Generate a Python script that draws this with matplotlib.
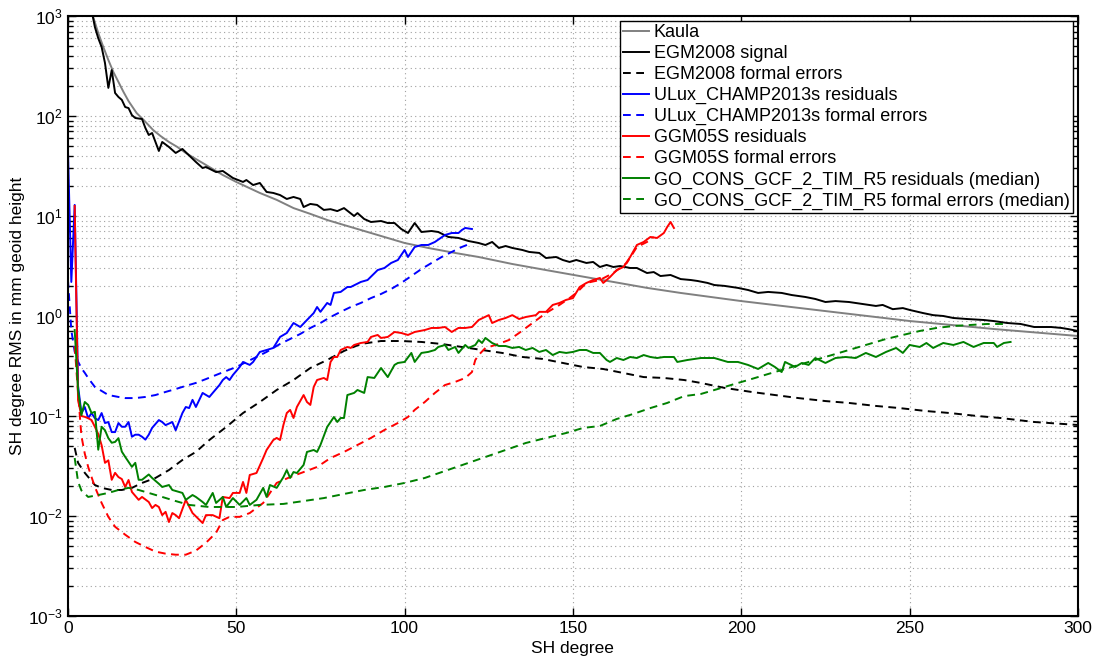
import matplotlib
matplotlib.use("Agg")
import matplotlib.pyplot as plt
from matplotlib.ticker import LogLocator, NullFormatter, MultipleLocator

plt.rcParams['font.family'] = ['Liberation Sans', 'DejaVu Sans']

# ---- data (SH degree, RMS in mm geoid height) ----
kaula_deg = [6, 7.5, 9, 10.5, 12, 13.5, 15, 16.5, 18, 20.4, 22.5, 25.3, 27.5, 30, 32.5, 35, 37.5, 40,
             42.5, 46, 50, 57, 62, 67, 72, 77, 83, 90, 100, 107, 115, 122, 132, 142, 152, 162, 172,
             182, 200, 225, 250, 275, 300]
kaula_val = [1660, 977, 676, 490, 363, 275, 219, 174, 141, 107, 91.2, 72.4, 63.1, 55.0, 49.0, 42.7,
             38.0, 33.9, 30.2, 25.7, 21.9, 17.0, 14.5, 12.0, 10.5, 9.12, 7.94, 6.76, 5.37, 4.79, 4.27,
             3.89, 3.31, 2.88, 2.51, 2.19, 1.91, 1.70, 1.41, 1.12, 0.891, 0.741, 0.631]

egm_deg = [2, 3, 4, 5, 6, 7, 8, 9, 10, 11, 12, 13, 14, 15, 16, 17, 18, 19, 20, 22, 23, 24, 25, 27, 28,
           30, 32, 34, 38, 40, 41, 44, 46, 49, 52, 53, 55, 57, 59, 61, 63, 65, 67, 69, 70, 72, 74, 76,
           78, 80, 82, 85, 86, 88, 90, 93, 95, 97, 99, 101, 103, 105, 108, 110, 113, 116, 119, 122,
           124, 126, 128, 130, 132, 135, 137, 140, 142, 145, 147, 149, 151, 154, 156, 158, 160, 162,
           164, 167, 169, 172, 174, 176, 179, 182, 185, 187, 190, 192, 195, 199, 202, 205, 208, 212,
           215, 219, 222, 225, 228, 232, 236, 240, 242, 245, 248, 250, 254, 257, 260, 263, 267, 272,
           275, 279, 283, 287, 292, 295, 297, 300]
egm_val = [30000, 10000, 5000, 2800, 1600, 1150, 776, 600, 490, 339, 191, 288, 170, 155, 145, 123, 120,
           102, 95.5, 93.3, 75.9, 64.6, 67.6, 44.7, 55.0, 49.0, 42.7, 46.8, 34.7, 30.2, 30.9, 27.5,
           28.2, 24.0, 21.9, 22.9, 20.4, 21.4, 17.4, 17.0, 16.2, 14.8, 15.5, 14.8, 12.3, 13.2, 12.9,
           11.5, 11.7, 11.2, 12.0, 10.0, 10.7, 9.33, 8.71, 8.91, 8.51, 8.51, 7.41, 6.76, 8.51, 6.92,
           7.08, 6.92, 6.17, 6.03, 5.62, 5.37, 5.13, 5.50, 4.79, 5.01, 4.79, 4.57, 4.37, 4.27, 3.80,
           3.89, 3.63, 3.47, 3.63, 3.39, 3.47, 3.09, 3.24, 3.09, 3.16, 3.02, 3.02, 2.69, 2.75, 2.51,
           2.57, 2.34, 2.29, 2.24, 2.14, 2.04, 2.00, 1.91, 1.82, 1.70, 1.74, 1.70, 1.62, 1.55, 1.48,
           1.38, 1.41, 1.38, 1.32, 1.26, 1.29, 1.17, 1.20, 1.15, 1.07, 1.02, 1.00, 0.955, 0.933,
           0.912, 0.89, 0.851, 0.832, 0.776, 0.776, 0.76, 0.741, 0.708]

egm_err_deg = [2, 3, 5, 8, 10, 13, 16, 19, 22, 26, 30, 34, 38, 42, 47, 52, 57, 62, 67, 72, 77, 82, 87,
               93, 99, 105, 111, 117, 123, 129, 135, 141, 147, 153, 159, 165, 171, 177, 183, 188, 195,
               203, 210, 217, 225, 232, 240, 247, 255, 262, 270, 277, 287, 300]
egm_err_val = [0.048, 0.034, 0.027, 0.0204, 0.0191, 0.0182, 0.0182, 0.0191, 0.0214, 0.0240, 0.0288,
               0.0363, 0.0437, 0.0575, 0.0776, 0.107, 0.138, 0.182, 0.229, 0.302, 0.363, 0.447, 0.525,
               0.562, 0.562, 0.550, 0.525, 0.490, 0.457, 0.427, 0.389, 0.372, 0.339, 0.309, 0.295,
               0.269, 0.245, 0.240, 0.229, 0.214, 0.191, 0.174, 0.162, 0.151, 0.141, 0.135, 0.126,
               0.120, 0.112, 0.107, 0.100, 0.0955, 0.0871, 0.0813]

ulux_deg = [0, 1, 2, 3, 4, 5, 6, 7, 8, 9, 10, 11, 12, 13, 14, 15, 16, 17, 18, 19, 20, 21, 22, 23, 24,
            25, 27, 28, 29, 31, 32, 34, 35, 36, 37, 38, 40, 42, 43, 45, 46, 47, 48, 49, 51, 52, 54, 55,
            57, 59, 61, 63, 65, 67, 69, 71, 73, 74, 75, 77, 78, 79, 81, 83, 84, 87, 89, 92, 94, 96, 98,
            100, 101, 103, 105, 107, 109, 112, 114, 116, 117, 118, 120]
ulux_val = [45.7, 2.19, 12.9, 0.20, 0.107, 0.123, 0.095, 0.107, 0.095, 0.091, 0.107, 0.085, 0.087,
            0.069, 0.069, 0.085, 0.078, 0.078, 0.087, 0.062, 0.065, 0.065, 0.062, 0.058, 0.065, 0.076,
            0.091, 0.087, 0.081, 0.087, 0.072, 0.107, 0.123, 0.120, 0.145, 0.123, 0.170, 0.155, 0.170,
            0.204, 0.229, 0.245, 0.229, 0.257, 0.309, 0.347, 0.324, 0.347, 0.437, 0.457, 0.479, 0.617,
            0.676, 0.851, 0.776, 0.912, 1.07, 1.23, 1.10, 1.35, 1.29, 1.70, 1.74, 1.95, 1.95, 2.19,
            2.29, 2.88, 3.02, 3.39, 3.63, 4.57, 3.89, 4.90, 5.13, 5.13, 5.50, 6.46, 6.76, 6.76, 7.24,
            7.59, 7.41]

ulux_err_deg = [0, 1, 2, 3, 4, 5, 6, 8, 10, 12, 15, 17, 20, 23, 26, 29, 32, 35, 38, 41, 44, 47, 50, 53,
                56, 59, 63, 66, 69, 72, 75, 78, 81, 84, 87, 90, 93, 96, 99, 102, 105, 108, 111, 114,
                117, 120]
ulux_err_val = [2.29, 0.72, 0.44, 0.35, 0.30, 0.27, 0.24, 0.195, 0.178, 0.162, 0.155, 0.151, 0.151,
                0.155, 0.162, 0.174, 0.186, 0.200, 0.214, 0.234, 0.257, 0.282, 0.309, 0.347, 0.389,
                0.437, 0.525, 0.589, 0.661, 0.759, 0.851, 0.977, 1.10, 1.23, 1.35, 1.51, 1.66, 1.86,
                2.14, 2.51, 2.95, 3.39, 3.89, 4.37, 4.90, 5.37]

ggm_deg = [2, 3, 4, 5, 6, 7, 8, 9, 10, 11, 12, 13, 14, 15, 16, 17, 18, 19, 21, 22, 24, 25, 26, 27, 28,
           29, 30, 31, 32, 33, 35, 37, 40, 41, 43, 45, 46, 48, 49, 51, 52, 53, 54, 56, 58, 59, 61, 62,
           63, 64, 65, 66, 67, 68, 70, 71, 72, 73, 74, 76, 77, 78, 79, 80, 81, 83, 84, 85, 87, 89, 90,
           92, 93, 95, 97, 99, 101, 103, 106, 108, 110, 112, 114, 116, 118, 120, 122, 125, 126, 128,
           130, 132, 134, 136, 139, 140, 142, 144, 146, 148, 150, 152, 154, 156, 158, 159, 161, 163,
           165, 167, 169, 171, 173, 175, 177, 178, 179, 180]
ggm_val = [12.6, 0.145, 0.100, 0.098, 0.095, 0.091, 0.078, 0.066, 0.051, 0.034, 0.036, 0.023, 0.027,
           0.0245, 0.0234, 0.0195, 0.0229, 0.0174, 0.0145, 0.0155, 0.0138, 0.0120, 0.0129, 0.0123,
           0.0102, 0.0110, 0.0087, 0.0107, 0.0102, 0.0095, 0.0145, 0.0107, 0.0085, 0.0102, 0.0102,
           0.0095, 0.0155, 0.0151, 0.0170, 0.0170, 0.0219, 0.0170, 0.0257, 0.0269, 0.0380, 0.0457,
           0.0575, 0.0603, 0.0575, 0.0813, 0.107, 0.115, 0.0955, 0.123, 0.162, 0.138, 0.129, 0.195,
           0.229, 0.240, 0.229, 0.347, 0.389, 0.389, 0.457, 0.490, 0.479, 0.513, 0.537, 0.550, 0.617,
           0.646, 0.603, 0.617, 0.692, 0.676, 0.646, 0.692, 0.724, 0.759, 0.759, 0.776, 0.692, 0.759,
           0.759, 0.776, 0.912, 1.02, 0.851, 0.912, 0.955, 1.02, 0.933, 0.977, 1.02, 1.10, 1.10,
           1.29, 1.35, 1.45, 1.51, 1.95, 2.14, 2.29, 2.40, 2.14, 2.45, 2.88, 3.09, 3.89, 5.13, 5.50,
           6.17, 6.03, 6.76, 7.76, 8.71, 7.59]

ggm_err_deg = [2, 3, 4, 5, 6, 8, 10, 12, 14, 17, 20, 23, 26, 29, 32, 35, 38, 41, 44, 46, 48, 51, 54,
               58, 62, 66, 70, 74, 78, 82, 86, 90, 94, 98, 101, 103, 106, 109, 112, 115, 118, 120, 121,
               122, 124, 127, 131, 134, 138, 142, 146, 149, 151, 154, 158, 162, 166, 169, 172, 174]
ggm_err_val = [0.50, 0.17, 0.063, 0.042, 0.031, 0.0195, 0.0135, 0.0098, 0.0078, 0.0065, 0.0055,
               0.0049, 0.0044, 0.0042, 0.0041, 0.0041, 0.0045, 0.0054, 0.0068, 0.0091, 0.0098,
               0.0098, 0.0107, 0.0135, 0.0214, 0.0245, 0.0275, 0.0309, 0.0380, 0.0437, 0.0513,
               0.0603, 0.0724, 0.0851, 0.0977, 0.115, 0.138, 0.170, 0.204, 0.219, 0.240, 0.275,
               0.363, 0.407, 0.479, 0.513, 0.575, 0.676, 0.851, 1.07, 1.29, 1.51, 1.70, 2.14, 2.29,
               2.69, 3.39, 4.90, 5.50, 6.17]

gocs_deg = [2, 3, 4, 5, 6, 7, 8, 9, 10, 11, 12, 13, 14, 15, 16, 17, 19, 20, 21, 22, 24, 25, 27, 28,
            30, 31, 33, 34, 35, 37, 38, 40, 41, 43, 44, 46, 47, 49, 51, 53, 54, 56, 58, 59, 60, 62,
            64, 65, 66, 67, 68, 70, 71, 73, 74, 75, 77, 79, 80, 81, 82, 83, 85, 86, 88, 89, 91, 93,
            95, 97, 98, 100, 102, 103, 105, 107, 109, 110, 112, 113, 115, 116, 118, 119, 121, 122,
            123, 124, 126, 128, 130, 132, 134, 136, 138, 140, 142, 144, 146, 148, 150, 152, 154,
            156, 158, 160, 161, 163, 165, 167, 169, 171, 173, 175, 177, 180, 181, 184, 188, 192,
            196, 199, 202, 205, 208, 210, 212, 213, 216, 218, 220, 222, 225, 228, 231, 234, 237,
            240, 243, 246, 248, 250, 253, 255, 257, 260, 263, 266, 269, 272, 275, 276, 278, 280]
gocs_val = [0.724, 0.182, 0.102, 0.138, 0.129, 0.107, 0.110, 0.046, 0.078, 0.072, 0.060, 0.054,
            0.055, 0.060, 0.044, 0.039, 0.031, 0.034, 0.023, 0.023, 0.026, 0.024, 0.021, 0.0195,
            0.0204, 0.0182, 0.0174, 0.0170, 0.0145, 0.0162, 0.0155, 0.0138, 0.0129, 0.0170, 0.0135,
            0.0155, 0.0123, 0.0151, 0.0129, 0.0151, 0.0129, 0.0145, 0.0191, 0.0155, 0.0204, 0.0191,
            0.0245, 0.0288, 0.0240, 0.0275, 0.0269, 0.0324, 0.0437, 0.0457, 0.0437, 0.0513, 0.0776,
            0.0977, 0.0871, 0.0955, 0.0955, 0.162, 0.170, 0.182, 0.170, 0.245, 0.240, 0.302, 0.245,
            0.324, 0.339, 0.347, 0.427, 0.347, 0.427, 0.437, 0.457, 0.490, 0.513, 0.457, 0.490,
            0.427, 0.513, 0.479, 0.513, 0.575, 0.537, 0.603, 0.537, 0.501, 0.501, 0.479, 0.490,
            0.457, 0.479, 0.437, 0.457, 0.407, 0.437, 0.427, 0.437, 0.457, 0.457, 0.427, 0.427,
            0.363, 0.347, 0.380, 0.363, 0.389, 0.380, 0.407, 0.389, 0.380, 0.389, 0.389, 0.347,
            0.363, 0.380, 0.380, 0.347, 0.347, 0.324, 0.295, 0.339, 0.309, 0.275, 0.347, 0.309,
            0.339, 0.324, 0.380, 0.339, 0.380, 0.389, 0.380, 0.427, 0.389, 0.437, 0.479, 0.427,
            0.513, 0.490, 0.537, 0.479, 0.537, 0.513, 0.550, 0.490, 0.537, 0.537, 0.490, 0.537,
            0.550]

gocs_err_deg = [2, 3, 4, 6, 9, 12, 15, 18, 21, 24, 28, 32, 36, 42, 50, 57, 64, 70, 76, 82, 88, 94,
                100, 106, 112, 118, 124, 130, 136, 142, 148, 153, 158, 163, 168, 173, 178, 183, 188,
                193, 198, 203, 208, 213, 218, 223, 228, 233, 238, 243, 248, 253, 258, 263, 268, 273,
                279]
gocs_err_val = [0.038, 0.022, 0.018, 0.0155, 0.0162, 0.0170, 0.0182, 0.0191, 0.0182, 0.0170, 0.0155,
                0.0141, 0.0129, 0.0123, 0.0123, 0.0129, 0.0132, 0.0141, 0.0151, 0.0166, 0.0182,
                0.0195, 0.0214, 0.0240, 0.0282, 0.0331, 0.0389, 0.0457, 0.0537, 0.0603, 0.0676,
                0.0759, 0.0794, 0.0933, 0.105, 0.120, 0.135, 0.158, 0.166, 0.186, 0.209, 0.234,
                0.263, 0.295, 0.331, 0.372, 0.417, 0.468, 0.525, 0.589, 0.646, 0.708, 0.759, 0.794,
                0.813, 0.832, 0.832]

GREEN = (0, 0.5, 0)
LW = 1.4
DASH = (0, (4.0, 2.8))

fig = plt.figure(figsize=(10.96, 6.59), dpi=100)
ax = fig.add_axes([0.062, 0.0653, 0.9215, 0.9104])

ax.plot(kaula_deg, kaula_val, color=(0.5, 0.5, 0.5), lw=LW, label='Kaula')
ax.plot(egm_deg, egm_val, color='black', lw=LW, label='EGM2008 signal')
ax.plot(egm_err_deg, egm_err_val, color='black', lw=LW, ls=DASH, label='EGM2008 formal errors')
ax.plot(ulux_deg, ulux_val, color='blue', lw=LW, label='ULux_CHAMP2013s residuals')
ax.plot(ulux_err_deg, ulux_err_val, color='blue', lw=LW, ls=DASH, label='ULux_CHAMP2013s formal errors')
ax.plot(ggm_deg, ggm_val, color='red', lw=LW, label='GGM05S residuals')
ax.plot(ggm_err_deg, ggm_err_val, color='red', lw=LW, ls=DASH, label='GGM05S formal errors')
ax.plot(gocs_deg, gocs_val, color=GREEN, lw=LW, label='GO_CONS_GCF_2_TIM_R5 residuals (median)')
ax.plot(gocs_err_deg, gocs_err_val, color=GREEN, lw=LW, ls=DASH,
        label='GO_CONS_GCF_2_TIM_R5 formal errors (median)')

ax.set_yscale('log')
ax.set_xlim(0, 300)
ax.set_ylim(1e-3, 1e3)
ax.xaxis.set_major_locator(MultipleLocator(50))
ax.yaxis.set_major_locator(LogLocator(base=10, numticks=10))
ax.yaxis.set_minor_locator(LogLocator(base=10, subs=range(2, 10), numticks=100))
ax.yaxis.set_minor_formatter(NullFormatter())

grid_style = dict(ls=(0, (1, 3)), color='#a0a0a0', lw=0.8)
ax.grid(True, which='major', **grid_style)
ax.grid(True, which='minor', axis='y', **grid_style)
ax.tick_params(which='both', direction='in', top=True, right=True, labelsize=12.5)
ax.tick_params(which='major', length=6, width=1)
ax.tick_params(which='minor', length=3.5, width=1)
for s in ax.spines.values():
    s.set_linewidth(1.5)

ax.set_xlabel('SH degree', fontsize=12.5, labelpad=4)
ax.set_ylabel('SH degree RMS in mm geoid height', fontsize=12.5, labelpad=2)

leg = ax.legend(loc='upper right', fontsize=13, fancybox=False, framealpha=1, edgecolor='black',
                handlelength=1.45, handletextpad=0.25, labelspacing=0.22, borderpad=0.2,
                borderaxespad=0.25)
leg.get_frame().set_linewidth(1.0)

fig.savefig('out.png', dpi=100)
